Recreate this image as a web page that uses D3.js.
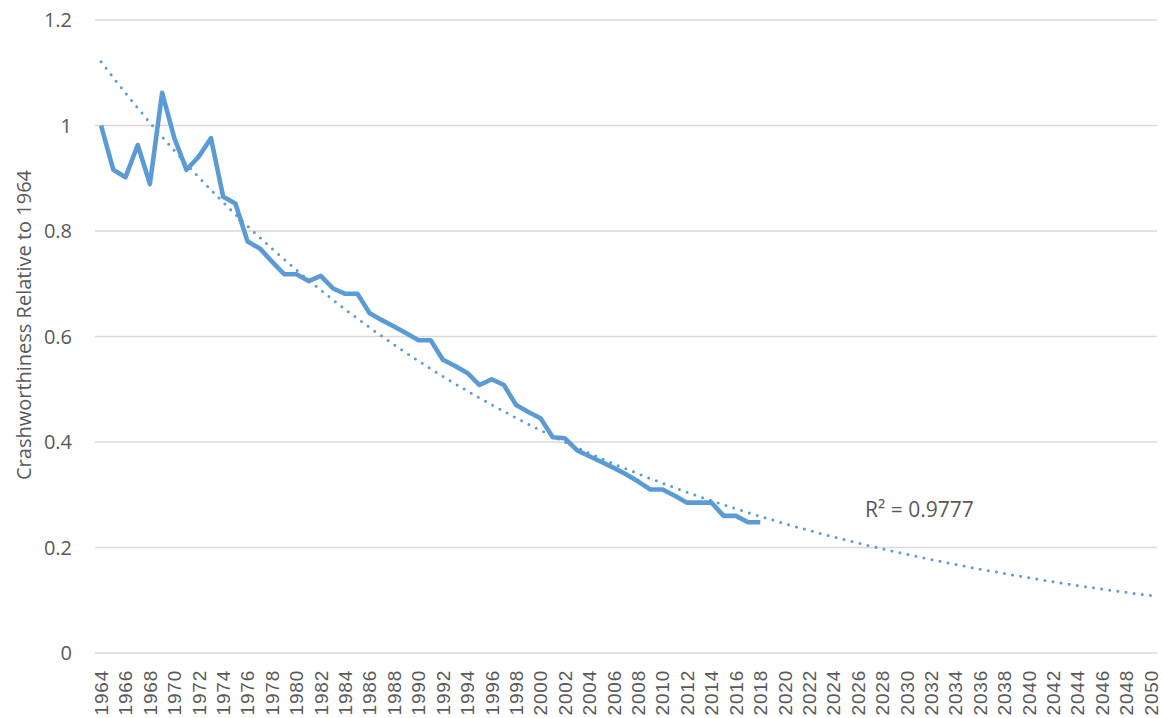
<!DOCTYPE html>
<html>
<head>
<meta charset="utf-8">
<script src="https://cdn.jsdelivr.net/npm/d3@7"></script>
<style>
  body { margin: 0; background: #fff; }
  text { font-family: "Open Sans", sans-serif; fill: #595959; }
  .xlab text { font-family: "Liberation Sans", Arial, sans-serif; }
</style>
</head>
<body>
<svg id="vis" width="1162" height="718"></svg>
<script>
// categories on the x axis (one per year, labels every 2nd year)
const all_years = d3.range(1964, 2051);
const data_years = d3.range(1964, 2019);
// crashworthiness relative to 1964
const values = [1.000, 0.916, 0.902, 0.963, 0.889, 1.062, 0.976, 0.916, 0.941, 0.976,
                0.865, 0.852, 0.780, 0.767, 0.742, 0.718, 0.718, 0.705, 0.715, 0.691,
                0.681, 0.681, 0.644, 0.631, 0.619, 0.606, 0.593, 0.593, 0.556, 0.544,
                0.531, 0.508, 0.519, 0.508, 0.470, 0.457, 0.445, 0.409, 0.407, 0.384,
                0.373, 0.362, 0.351, 0.339, 0.325, 0.310, 0.310, 0.298, 0.285, 0.285,
                0.285, 0.260, 0.260, 0.248, 0.248];
const y_ticks = [0, 0.2, 0.4, 0.6, 0.8, 1, 1.2];
const y_title = "Crashworthiness Relative to 1964";
const r2_label = "R² = 0.9777";

const svg = d3.select("#vis");
const plot_l = 95, plot_r = 1157, plot_t = 20, plot_b = 653;

const x = d3.scaleBand().domain(all_years).range([plot_l, plot_r]).padding(0);
const cx = yr => x(yr) + x.bandwidth() / 2;
const y = d3.scaleLinear().domain([0, 1.2]).range([plot_b, plot_t]);

// gridlines
svg.append("g").selectAll("line").data(y_ticks).join("line")
    .attr("x1", plot_l).attr("x2", plot_r)
    .attr("y1", d => y(d)).attr("y2", d => y(d))
    .attr("stroke", "#d9d9d9").attr("stroke-width", 1.3);

// y tick labels
svg.append("g").selectAll("text").data(y_ticks).join("text")
    .attr("x", 72).attr("y", d => y(d))
    .attr("dy", "0.35em")
    .attr("text-anchor", "end")
    .attr("font-size", 20)
    .text(d => d);

// x tick labels
svg.append("g").attr("class", "xlab")
    .selectAll("text").data(all_years.filter(d => d % 2 === 0)).join("text")
    .attr("transform", d => `translate(${cx(d)},670) rotate(-90)`)
    .attr("dy", "0.36em")
    .attr("text-anchor", "end")
    .attr("font-size", 19)
    .attr("letter-spacing", 0.8)
    .text(d => d);

// y title
svg.append("text")
    .attr("transform", "translate(24,325) rotate(-90)")
    .attr("text-anchor", "middle")
    .attr("dy", "0.35em")
    .attr("font-size", 20)
    .text(y_title);

// exponential trendline, least squares on ln(value) like the spreadsheet does
const pts = data_years.map((yr, i) => [yr - 1964, Math.log(values[i])]);
const mx = d3.mean(pts, p => p[0]), my = d3.mean(pts, p => p[1]);
const b = d3.sum(pts, p => (p[0] - mx) * (p[1] - my)) / d3.sum(pts, p => (p[0] - mx) ** 2);
const a = Math.exp(my - b * mx);
const trend = all_years.map(yr => ({year: yr, v: a * Math.exp(b * (yr - 1964))}));

svg.append("path")
    .datum(trend)
    .attr("fill", "none")
    .attr("stroke", "#5b9bd5")
    .attr("stroke-width", 3)
    .attr("stroke-linecap", "round")
    .attr("stroke-dasharray", "0 8.2")
    .attr("d", d3.line().x(d => cx(d.year)).y(d => y(d.v)).curve(d3.curveMonotoneX));

// data line
svg.append("path")
    .datum(data_years.map((yr, i) => ({year: yr, v: values[i]})))
    .attr("fill", "none")
    .attr("stroke", "#5b9bd5")
    .attr("stroke-width", 4.6)
    .attr("stroke-linejoin", "round")
    .attr("d", d3.line().x(d => cx(d.year)).y(d => y(d.v)));

svg.append("text")
    .attr("x", 865).attr("y", 517)
    .attr("font-size", 21)
    .text(r2_label);
</script>
</body>
</html>
